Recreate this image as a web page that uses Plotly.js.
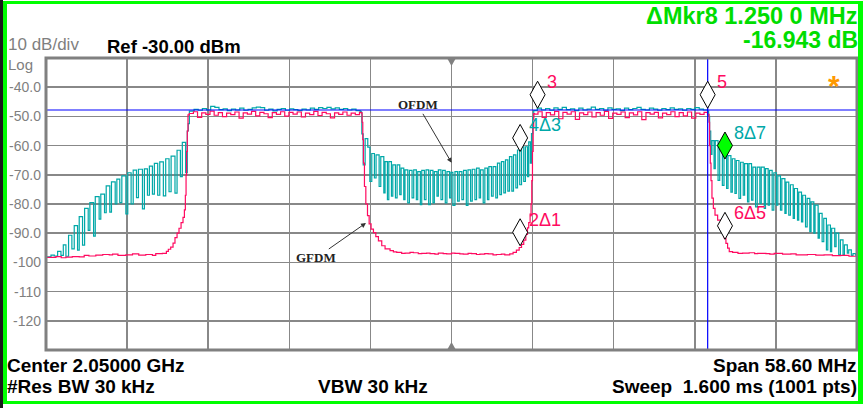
<!DOCTYPE html>
<html><head><meta charset="utf-8">
<script src="https://cdn.plot.ly/plotly-3.0.1.min.js"></script>
<style>
html,body{margin:0;padding:0;background:#fff;overflow:hidden}
#wrap{position:relative;width:864px;height:408px}
#chart{position:absolute;left:0;top:0;width:864px;height:408px}
#frame{position:absolute;left:3px;top:1px;width:860px;height:403px;box-sizing:border-box;border-style:solid;border-color:#00ff00;border-width:3px 5px 3px 4px;pointer-events:none}
#strip{position:absolute;left:0;top:0;width:3px;height:408px;background:#1a1a1a}
</style></head>
<body><div id="wrap"><div id="chart"></div><div id="frame"></div><div id="strip"></div></div>
<script>
// ---- sweep settings (MHz / dBm) ----
const startFreq = 2020.7, stopFreq = 2079.3, centerFreq = 2050.0;
const refLevel = -30, bottomLevel = -130;
const yTickVals = [-40, -50, -60, -70, -80, -90, -100, -110, -120];
const yTickText = ['-40.0', '-50.0', '-60.0', '-70.0', '-80.0', '-90.0', '-100', '-110', '-120'];
const displayLine = -47.8;      // blue horizontal line (dBm)
const markerLineFreq = 2068.51; // blue vertical line (MHz)

// ---- OFDM trace (teal) [MHz, dBm] ----
const ofdmLow = [[2020.70,-98.1],[2021.06,-97.5],[2021.30,-97.8],[2021.54,-96.2],[2021.78,-97.6],[2021.95,-94.0],[2022.14,-97.9],[2022.33,-90.7],[2022.57,-95.4],[2022.74,-87.4],[2022.98,-95.8],[2023.10,-84.3],[2023.34,-94.1],[2023.49,-81.5],[2023.75,-89.0],[2023.87,-79.5],[2024.14,-91.0],[2024.26,-77.5],[2024.54,-85.2],[2024.66,-76.6],[2024.93,-83.0],[2025.05,-73.8],[2025.31,-82.8],[2025.43,-72.4],[2025.70,-80.0],[2025.82,-71.5],[2026.03,-79.5],[2026.18,-70.4],[2026.47,-83.4],[2026.61,-69.3],[2026.85,-80.0],[2027.00,-68.4],[2027.24,-77.8],[2027.38,-68.1],[2027.67,-81.7],[2027.81,-68.0],[2028.03,-77.0],[2028.17,-67.0],[2028.39,-76.6],[2028.53,-66.1],[2028.77,-77.0],[2028.92,-65.6],[2029.18,-77.2],[2029.35,-64.5],[2029.59,-75.8],[2029.74,-63.6],[2030.02,-76.3],[2030.17,-61.6],[2030.41,-70.6],[2030.55,-58.9],[2030.79,-69.3],[2030.91,-55.0],[2030.98,-52.5]];
const ofdmBand1 = [[2031.06,-48.2],[2031.40,-47.6],[2031.70,-47.9],[2032.00,-47.3],[2032.30,-47.8],[2032.60,-46.6],[2032.90,-46.9],[2033.20,-47.7],[2033.50,-47.4],[2033.80,-48.0],[2034.10,-47.5],[2034.40,-47.8],[2034.70,-47.2],[2035.00,-47.9],[2035.30,-47.6],[2035.60,-47.1],[2035.90,-46.8],[2036.20,-47.0],[2036.50,-47.9],[2036.80,-47.5],[2037.10,-48.1],[2037.40,-47.6],[2037.70,-47.3],[2038.00,-47.9],[2038.30,-47.4],[2038.60,-47.7],[2038.90,-48.0],[2039.20,-47.5],[2039.50,-47.8],[2039.80,-47.2],[2040.10,-47.6],[2040.40,-47.0],[2040.70,-47.3],[2041.00,-46.9],[2041.30,-47.4],[2041.60,-47.1],[2041.90,-47.6],[2042.20,-47.3],[2042.50,-47.8],[2042.80,-47.5],[2043.10,-48.0],[2043.40,-48.3]];
const ofdmGap = [[2043.47,-48.6],[2043.52,-56.0],[2043.62,-66.6],[2043.76,-57.6],[2043.95,-60.5],[2044.10,-72.3],[2044.24,-62.7],[2044.43,-71.1],[2044.55,-63.2],[2044.77,-74.0],[2044.89,-63.8],[2045.11,-76.2],[2045.20,-65.5],[2045.37,-78.5],[2045.47,-65.5],[2045.66,-77.3],[2045.76,-66.6],[2045.95,-77.9],[2046.07,-66.6],[2046.26,-76.8],[2046.36,-67.7],[2046.55,-78.5],[2046.64,-68.3],[2046.84,-79.6],[2046.96,-68.5],[2047.15,-77.9],[2047.27,-68.3],[2047.46,-78.5],[2047.56,-68.9],[2047.75,-80.2],[2047.85,-68.5],[2048.04,-78.5],[2048.16,-68.3],[2048.35,-80.2],[2048.47,-68.5],[2048.66,-79.6],[2048.76,-68.9],[2048.95,-77.3],[2049.05,-68.3],[2049.24,-78.5],[2049.36,-68.5],[2049.55,-79.6],[2049.67,-68.9],[2049.86,-77.9],[2049.96,-69.2],[2050.10,-80.5],[2050.25,-68.9],[2050.44,-79.0],[2050.56,-68.9],[2050.75,-78.5],[2050.87,-68.5],[2051.07,-80.5],[2051.19,-68.3],[2051.38,-79.0],[2051.50,-68.1],[2051.69,-78.5],[2051.81,-67.7],[2052.00,-77.9],[2052.10,-68.3],[2052.29,-79.6],[2052.41,-67.7],[2052.60,-78.5],[2052.70,-67.2],[2052.89,-77.3],[2053.01,-67.2],[2053.20,-77.9],[2053.32,-66.0],[2053.49,-76.8],[2053.61,-65.5],[2053.78,-76.2],[2053.90,-64.9],[2054.07,-75.6],[2054.19,-63.8],[2054.36,-75.6],[2054.48,-63.2],[2054.65,-74.5],[2054.77,-61.5],[2054.93,-73.4],[2055.06,-60.4],[2055.22,-72.3],[2055.34,-60.4],[2055.49,-70.6],[2055.58,-58.7],[2055.70,-66.0],[2055.78,-55.9],[2055.87,-50.2]];
const ofdmBand2 = [[2055.94,-48.0],[2056.20,-47.2],[2056.50,-47.8],[2056.80,-47.3],[2057.10,-47.9],[2057.40,-47.1],[2057.70,-47.6],[2058.00,-46.9],[2058.30,-47.7],[2058.60,-47.4],[2058.90,-48.0],[2059.20,-47.2],[2059.50,-47.8],[2059.80,-47.5],[2060.10,-46.8],[2060.40,-47.6],[2060.70,-47.3],[2061.00,-47.9],[2061.30,-47.1],[2061.60,-47.6],[2061.90,-47.4],[2062.20,-48.0],[2062.50,-47.2],[2062.80,-47.7],[2063.10,-47.3],[2063.40,-46.9],[2063.70,-47.6],[2064.00,-47.8],[2064.30,-47.2],[2064.60,-47.5],[2064.90,-47.9],[2065.20,-47.3],[2065.50,-47.7],[2065.80,-47.1],[2066.10,-47.6],[2066.40,-47.4],[2066.70,-47.9],[2067.00,-47.3],[2067.30,-47.6],[2067.60,-47.0],[2067.90,-47.5],[2068.20,-47.8],[2068.50,-48.2]];
const ofdmHigh = [[2068.58,-50.0],[2068.65,-55.0],[2068.73,-63.0],[2068.82,-58.3],[2068.97,-67.9],[2069.06,-58.3],[2069.26,-71.9],[2069.38,-60.0],[2069.57,-73.6],[2069.69,-61.1],[2069.88,-74.7],[2069.98,-63.4],[2070.19,-75.9],[2070.29,-64.5],[2070.48,-76.4],[2070.58,-65.1],[2070.77,-78.1],[2070.89,-65.7],[2071.08,-77.0],[2071.18,-66.2],[2071.39,-79.3],[2071.49,-66.2],[2071.68,-78.7],[2071.78,-67.4],[2071.97,-81.0],[2072.09,-67.4],[2072.28,-79.8],[2072.38,-67.4],[2072.60,-81.5],[2072.69,-67.9],[2072.88,-80.4],[2072.98,-68.5],[2073.17,-82.1],[2073.29,-69.3],[2073.48,-80.4],[2073.58,-70.4],[2073.77,-82.1],[2073.87,-71.3],[2074.09,-83.2],[2074.18,-72.5],[2074.37,-83.8],[2074.49,-73.4],[2074.69,-84.9],[2074.78,-74.7],[2075.00,-85.5],[2075.09,-75.9],[2075.29,-86.1],[2075.38,-77.0],[2075.58,-87.8],[2075.70,-78.1],[2075.89,-89.5],[2075.98,-79.3],[2076.18,-90.0],[2076.27,-80.4],[2076.49,-91.7],[2076.58,-83.2],[2076.78,-92.9],[2076.90,-84.9],[2077.09,-95.7],[2077.19,-87.2],[2077.38,-96.3],[2077.47,-88.3],[2077.69,-94.6],[2077.79,-90.0],[2077.98,-97.4],[2078.10,-92.3],[2078.29,-97.4],[2078.39,-94.0],[2078.60,-96.8],[2078.70,-95.7],[2078.89,-97.6],[2079.01,-97.0],[2079.20,-97.5],[2079.30,-97.4]];

// ---- GFDM trace (red) [MHz, dBm] ----
const gfdmLow = [[2020.70,-98.3],[2021.42,-98.0],[2021.80,-98.4],[2022.14,-98.2],[2022.60,-98.0],[2023.10,-98.1],[2023.46,-97.6],[2023.80,-97.8],[2024.30,-97.5],[2024.80,-97.3],[2025.27,-97.4],[2025.51,-97.2],[2025.90,-97.6],[2026.47,-97.4],[2026.95,-97.1],[2027.40,-97.5],[2027.91,-97.3],[2028.39,-97.6],[2028.63,-97.0],[2029.11,-96.9],[2029.40,-96.2],[2029.54,-95.5],[2029.71,-94.8],[2029.88,-93.4],[2030.02,-91.5],[2030.17,-90.0],[2030.31,-88.3],[2030.46,-86.4],[2030.60,-84.6],[2030.70,-82.0],[2030.77,-77.0],[2030.82,-70.0],[2030.86,-62.0],[2030.91,-55.0],[2030.96,-49.5]];
const gfdmBand1 = [[2031.05,-49.0],[2031.35,-48.4],[2031.65,-50.3],[2031.95,-48.8],[2032.25,-49.3],[2032.55,-48.2],[2032.85,-49.6],[2033.15,-48.7],[2033.45,-50.1],[2033.75,-48.9],[2034.05,-49.4],[2034.35,-48.5],[2034.65,-50.6],[2034.95,-48.8],[2035.25,-49.2],[2035.55,-48.3],[2035.85,-49.8],[2036.15,-48.6],[2036.45,-49.1],[2036.75,-50.4],[2037.05,-48.7],[2037.35,-49.3],[2037.65,-48.4],[2037.95,-49.9],[2038.25,-48.6],[2038.55,-49.2],[2038.85,-48.5],[2039.15,-50.2],[2039.45,-48.9],[2039.75,-49.4],[2040.05,-48.3],[2040.35,-49.7],[2040.65,-48.6],[2040.95,-49.1],[2041.25,-50.5],[2041.55,-48.8],[2041.85,-49.3],[2042.15,-48.5],[2042.45,-49.6],[2042.75,-48.9],[2043.05,-49.4],[2043.35,-48.6]];
const gfdmGap = [[2043.47,-48.8],[2043.54,-52.0],[2043.59,-58.0],[2043.64,-66.0],[2043.71,-74.0],[2043.81,-80.0],[2043.93,-84.0],[2044.05,-86.8],[2044.19,-88.6],[2044.36,-89.8],[2044.53,-91.2],[2044.72,-92.6],[2044.96,-94.3],[2045.20,-95.4],[2045.56,-96.0],[2045.80,-96.4],[2046.04,-96.6],[2046.40,-96.9],[2046.64,-96.8],[2047.00,-96.6],[2047.25,-96.7],[2047.60,-97.0],[2047.85,-96.9],[2048.20,-96.8],[2048.45,-97.0],[2048.80,-97.2],[2049.05,-96.8],[2049.40,-97.0],[2049.65,-97.1],[2050.00,-96.8],[2050.25,-96.9],[2050.60,-97.1],[2050.85,-97.2],[2051.20,-96.9],[2051.45,-97.0],[2051.80,-97.3],[2052.05,-97.2],[2052.40,-97.0],[2052.65,-97.1],[2053.00,-97.4],[2053.25,-97.3],[2053.60,-97.2],[2053.85,-97.4],[2054.21,-97.1],[2054.45,-96.6],[2054.69,-95.8],[2054.89,-94.9],[2055.06,-93.8],[2055.22,-92.4],[2055.37,-90.4],[2055.49,-88.2],[2055.58,-86.4],[2055.68,-83.5],[2055.75,-80.0],[2055.80,-72.0],[2055.85,-62.0],[2055.90,-54.0],[2055.94,-49.0]];
const gfdmBand2 = [[2056.00,-49.2],[2056.25,-48.4],[2056.55,-50.3],[2056.85,-48.7],[2057.15,-49.5],[2057.45,-48.3],[2057.75,-50.8],[2058.05,-48.6],[2058.35,-49.2],[2058.65,-48.4],[2058.95,-51.0],[2059.25,-48.8],[2059.55,-49.4],[2059.85,-48.5],[2060.15,-50.2],[2060.45,-48.7],[2060.75,-49.6],[2061.05,-48.3],[2061.35,-50.7],[2061.65,-48.9],[2061.95,-49.3],[2062.25,-48.5],[2062.55,-50.4],[2062.85,-48.8],[2063.15,-49.5],[2063.45,-48.4],[2063.75,-51.1],[2064.05,-48.7],[2064.35,-49.2],[2064.65,-48.6],[2064.95,-50.5],[2065.25,-48.9],[2065.55,-49.4],[2065.85,-48.4],[2066.15,-50.1],[2066.45,-48.7],[2066.75,-49.8],[2067.05,-48.5],[2067.35,-50.6],[2067.65,-48.9],[2067.95,-49.3],[2068.25,-48.6],[2068.50,-49.4]];
const gfdmHigh = [[2068.56,-49.3],[2068.61,-52.0],[2068.65,-60.0],[2068.70,-66.0],[2068.75,-72.0],[2068.82,-78.0],[2068.92,-81.5],[2069.04,-83.8],[2069.23,-85.5],[2069.47,-87.8],[2069.71,-91.7],[2069.83,-93.5],[2069.95,-95.1],[2070.07,-96.3],[2070.31,-96.6],[2070.70,-96.9],[2071.03,-96.8],[2071.51,-96.7],[2071.90,-97.0],[2072.12,-96.9],[2072.72,-97.0],[2073.00,-97.2],[2073.32,-96.9],[2073.92,-97.2],[2074.52,-97.1],[2074.90,-97.4],[2075.12,-97.4],[2075.72,-97.3],[2076.32,-97.5],[2076.92,-97.4],[2077.52,-97.7],[2078.12,-97.6],[2078.72,-97.9],[2079.30,-97.8]];

// ---- markers ----
const markerLabels = ['3', '4\u03943', '2\u03941', '5', '8\u03947', '6\u03945'];
const markerFreq   = [2056.22, 2054.96, 2054.96, 2068.51, 2069.76, 2069.76];
const markerLevel  = [-47.2, -62.0, -94.3, -47.2, -64.6, -92.1];
const markerTrace  = ['gfdm', 'ofdm', 'gfdm', 'gfdm', 'ofdm', 'gfdm'];
const activeMarker = '8\u03947';

// ---- callouts ----
const calloutText  = ['OFDM', 'GFDM'];
const calloutFreq  = [2050.01, 2043.82];
const calloutLevel = [-65.9, -86.5];

// ---------------------------------------------------------
const TEAL = '#00a8a8', RED = '#ff0a60', GRID = '#888888';
const W = 864, H = 408, M = {l: 46, r: 7, t: 58, b: 58};
const PW = W - M.l - M.r, PH = H - M.t - M.b;
const px = v => (v - M.l) / PW;
const py = v => (H - M.b - v) / PH;
const SANS = 'Liberation Sans, Arial, sans-serif';

const ofdm = [].concat(ofdmLow, ofdmBand1, ofdmGap, ofdmBand2, ofdmHigh);
const gfdm = [].concat(gfdmLow, gfdmBand1, gfdmGap, gfdmBand2, gfdmHigh);

const traces = [
  {x: ofdm.map(p => p[0]), y: ofdm.map(p => p[1]), type: 'scatter', mode: 'lines',
   line: {color: TEAL, width: 1.2, shape: 'hv'}, name: 'OFDM'},
  {x: gfdm.map(p => p[0]), y: gfdm.map(p => p[1]), type: 'scatter', mode: 'lines',
   line: {color: RED, width: 1.2, shape: 'hv'}, name: 'GFDM'}
];

const shapes = [
  {type: 'line', xref: 'paper', yref: 'y', x0: 0, x1: 1, y0: displayLine, y1: displayLine, line: {color: '#0000ff', width: 1.2}},
  {type: 'line', xref: 'x', yref: 'paper', x0: markerLineFreq, x1: markerLineFreq, y0: 0, y1: 1, line: {color: '#0000ff', width: 1.2}},
  {type: 'rect', xref: 'paper', yref: 'paper', x0: 0, x1: 1, y0: 0, y1: 1, line: {color: '#808080', width: 3}},
  {type: 'path', xref: 'x', yref: 'paper', xsizemode: 'pixel', ysizemode: 'pixel', xanchor: centerFreq, yanchor: 1,
   path: 'M-4.5,0 L4.5,0 L0,-8 Z', fillcolor: '#808080', line: {width: 0}},
  {type: 'path', xref: 'x', yref: 'paper', xsizemode: 'pixel', ysizemode: 'pixel', xanchor: centerFreq, yanchor: 0,
   path: 'M-4.5,0 L4.5,0 L0,8 Z', fillcolor: '#808080', line: {width: 0}}
];

const annotations = [];
function txt(text, x, y, xanchor, size, color, bold) {
  annotations.push({text: bold ? '<b>' + text + '</b>' : text, xref: 'paper', yref: 'paper',
    x: px(x), y: py(y), xanchor: xanchor, yanchor: 'middle', showarrow: false, borderpad: 0,
    font: {family: SANS, size: size, color: color}});
}
txt('10 dB/div', 7, 45, 'left', 17, '#7f7f7f', false);
txt('Log', 7, 64.5, 'left', 15, '#7f7f7f', false);
txt('Ref -30.00 dBm', 106, 46, 'left', 18.5, '#000', true);
txt('\u0394Mkr8 1.250 0 MHz', 859, 16, 'right', 23.5, '#00dd00', true);
txt('-16.943 dB', 859, 40, 'right', 23, '#00dd00', true);
txt('Center 2.05000 GHz', 6, 365, 'left', 19, '#000', true);
txt('Span 58.60 MHz', 858, 365, 'right', 19, '#000', true);
txt('#Res BW 30 kHz', 6, 386, 'left', 19, '#000', true);
txt('VBW 30 kHz', 317, 386, 'left', 19, '#000', true);
txt('Sweep\u00a0\u00a01.600 ms (1001 pts)', 858, 386, 'right', 19, '#000', true);
txt('*', 834, 85, 'center', 30, '#ff9900', true);

markerLabels.forEach((lab, i) => {
  shapes.push({type: 'path', xref: 'x', yref: 'y', xsizemode: 'pixel', ysizemode: 'pixel',
    xanchor: markerFreq[i], yanchor: markerLevel[i],
    path: 'M0,0 L7.5,13.5 L0,27 L-7.5,13.5 Z',
    fillcolor: lab === activeMarker ? '#00ff00' : '#ffffff', line: {color: '#000', width: 1}});
  annotations.push({text: lab, xref: 'x', yref: 'y', x: markerFreq[i], y: markerLevel[i],
    xanchor: 'left', yanchor: 'middle', xshift: 7, yshift: 26, showarrow: false,
    font: {family: SANS, size: 18, color: markerTrace[i] === 'ofdm' ? TEAL : RED}});
});

const calloutOffset = [[-34, -58], [-50, 35]];
calloutText.forEach((t, i) => {
  annotations.push({text: '<b>' + t + '</b>', xref: 'x', yref: 'y', x: calloutFreq[i], y: calloutLevel[i],
    ax: calloutOffset[i][0], ay: calloutOffset[i][1], showarrow: true, arrowhead: 2, arrowsize: 1,
    arrowwidth: 1, arrowcolor: '#333', font: {family: 'Liberation Serif, Times New Roman, serif', size: 13, color: '#222'}});
});

const layout = {
  width: W, height: H, margin: M, paper_bgcolor: '#fff', plot_bgcolor: '#fff', showlegend: false,
  xaxis: {range: [startFreq, stopFreq], tick0: startFreq, dtick: (stopFreq - startFreq) / 10,
    showticklabels: false, ticks: '', showgrid: true, gridcolor: GRID, gridwidth: 1.5, zeroline: false, showline: false},
  yaxis: {range: [bottomLevel, refLevel], tickvals: yTickVals, ticktext: yTickText, ticks: '',
    showgrid: true, gridcolor: GRID, gridwidth: 1.5, zeroline: false, showline: false, ticklabelstandoff: 4,
    tickfont: {family: SANS, size: 14, color: '#7f7f7f'}},
  shapes: shapes, annotations: annotations
};
Plotly.newPlot('chart', traces, layout, {staticPlot: true, displayModeBar: false});
</script></body></html>
